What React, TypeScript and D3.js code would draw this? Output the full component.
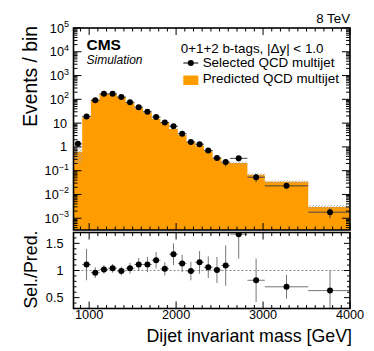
import React from "react";
import * as d3 from "d3";

// bin edges in GeV (last bin runs past the axis end)
const binEdges = [820, 920, 1020, 1120, 1220, 1320, 1420, 1520, 1620, 1720, 1820, 1920, 2020, 2120, 2220, 2320, 2420, 2520, 2620, 2820, 3020, 3520, 4020];

// selected QCD multijet (points) and predicted (orange histogram)
const selected = [1.34, 19.2, 91, 170, 170, 125, 75, 47, 30, 18, 10.6, 7.4, 3.6, 1.6, 1.3, 0.7, 0.34, 0.23, 0.33, 0.053, 0.023, 0.0018];
const selectedErr = [0.2, 4, 9, 13, 13, 10, 7, 5, 3.7, 2.3, 1.2, 1.1, 0.5, 0.27, 0.25, 0.13, 0.08, 0.08, 0.09, 0.02, 0.006, 0.0008];
const predicted = [0.62, 17.3, 95, 167, 163, 126, 72, 42, 27, 15.1, 10.3, 5.7, 3.2, 1.62, 1.13, 0.66, 0.34, 0.21, 0.21, 0.068, 0.034, 0.003];
const predictedUnc = [0.42, 1.0, 3, 5, 5, 4, 2.5, 1.5, 1.0, 0.6, 0.4, 0.25, 0.15, 0.08, 0.06, 0.035, 0.02, 0.015, 0.03, 0.009, 0.005, 0.0006];

// ratio panel (first bin has no point)
const ratio = [null, 1.11, 0.96, 1.02, 1.04, 0.99, 1.04, 1.11, 1.11, 1.19, 1.03, 1.3, 1.13, 0.99, 1.15, 1.06, 1.01, 1.09, 1.67, 0.82, 0.7, 0.63];
const ratioErr = [null, 0.29, 0.1, 0.08, 0.08, 0.08, 0.1, 0.12, 0.14, 0.15, 0.12, 0.2, 0.16, 0.17, 0.21, 0.2, 0.24, 0.37, 0.45, 0.4, 0.22, 0.37];

const xTicks = [1000, 2000, 3000, 4000];
const yDecades = [-3, -2, -1, 0, 1, 2, 3, 4, 5];
const ratioTicks = [0.5, 1, 1.5];

const W = 374;
const H = 351;
const L = 73.5;
const R = 350;
const T1 = 28;
const B1 = 230;
const T2 = 232.5;
const B2 = 308.5;
const FONT = "'Liberation Sans', Arial, Helvetica, sans-serif";
const ORANGE = "#ff9d00";

const x = d3.scaleLinear().domain([820, 4000]).range([L, R]);
const y = d3.scaleLog().domain([3.2e-4, 1e5]).range([B1, T1]);
const yr = d3.scaleLinear().domain([0.3, 1.7]).range([B2, T2]);

const minorX = d3.range(900, 4000, 100).filter((v) => v % 1000 !== 0);
const minorY: number[] = [];
for (let d = -4; d <= 4; d++) {
  for (let k = 2; k <= 9; k++) {
    const v = k * Math.pow(10, d);
    if (v > 3.2e-4 && v < 1e5) minorY.push(v);
  }
}
const minorR = d3.range(0.4, 1.7, 0.1).filter((v) => Math.abs(v * 2 - Math.round(v * 2)) > 0.01);

function XTicks({ top, bottom, major, minor }: { top: number; bottom: number; major: number; minor: number }) {
  return (
    <g stroke="#000" strokeWidth={1}>
      {xTicks.map((t) => (
        <g key={"M" + t}>
          <line x1={x(t)} x2={x(t)} y1={bottom} y2={bottom - major} />
          <line x1={x(t)} x2={x(t)} y1={top} y2={top + major} />
        </g>
      ))}
      {minorX.map((t) => (
        <g key={"m" + t}>
          <line x1={x(t)} x2={x(t)} y1={bottom} y2={bottom - minor} />
          <line x1={x(t)} x2={x(t)} y1={top} y2={top + minor} />
        </g>
      ))}
    </g>
  );
}

export default function App() {
  const centers = selected.map((_, i) => (binEdges[i] + binEdges[i + 1]) / 2);

  const areaData = predicted.map((v, i) => ({ e: binEdges[i], v }));
  areaData.push({ e: binEdges[binEdges.length - 1], v: predicted[predicted.length - 1] });
  const area = d3
    .area<{ e: number; v: number }>()
    .x((d) => x(d.e))
    .y0(B1)
    .y1((d) => y(d.v))
    .curve(d3.curveStepAfter);

  const yMin = y.domain()[0];

  return (
    <div style={{ position: "absolute", left: 0, top: 0 }}>
      <svg width={W} height={H} style={{ display: "block", background: "#fff" }} fontFamily={FONT}>
        <defs>
          <clipPath id="clipTop">
            <rect x={L} y={T1} width={R - L} height={B1 - T1} />
          </clipPath>
          <clipPath id="clipRatio">
            <rect x={L} y={T2} width={R - L} height={B2 - T2} />
          </clipPath>
          <pattern id="hatch" width={3} height={3} patternUnits="userSpaceOnUse">
            <path d="M-1,1 L1,-1 M0,3 L3,0 M2,4 L4,2" stroke="#9a9a9a" strokeWidth={0.7} />
          </pattern>
        </defs>

        {/* top panel */}
        <g clipPath="url(#clipTop)">
          <path d={area(areaData) || ""} fill={ORANGE} />
          {predicted.map((v, i) => (
            <rect
              key={"u" + i}
              x={x(binEdges[i])}
              width={x(binEdges[i + 1]) - x(binEdges[i])}
              y={y(v + predictedUnc[i])}
              height={y(Math.max(v - predictedUnc[i], yMin)) - y(v + predictedUnc[i])}
              fill="url(#hatch)"
            />
          ))}
          {selected.map((v, i) => (
            <g key={"p" + i} stroke="#444" strokeWidth={1}>
              <line x1={x(binEdges[i])} x2={x(binEdges[i + 1])} y1={y(v)} y2={y(v)} />
              <line
                x1={x(centers[i])}
                x2={x(centers[i])}
                y1={y(v + selectedErr[i])}
                y2={y(Math.max(v - selectedErr[i], yMin))}
              />
            </g>
          ))}
          {selected.map((v, i) => (
            <circle key={"c" + i} cx={x(centers[i])} cy={y(v)} r={3} fill="#000" />
          ))}
        </g>
        <XTicks top={T1} bottom={B1} major={7} minor={3.5} />
        <g stroke="#000" strokeWidth={1}>
          {yDecades.map((d) => (
            <g key={"yd" + d}>
              <line x1={L} x2={L + 8} y1={y(Math.pow(10, d))} y2={y(Math.pow(10, d))} />
              <line x1={R} x2={R - 8} y1={y(Math.pow(10, d))} y2={y(Math.pow(10, d))} />
            </g>
          ))}
          {minorY.map((v) => (
            <g key={"ym" + v}>
              <line x1={L} x2={L + 4} y1={y(v)} y2={y(v)} />
              <line x1={R} x2={R - 4} y1={y(v)} y2={y(v)} />
            </g>
          ))}
        </g>
        <rect x={L} y={T1} width={R - L} height={B1 - T1} fill="none" stroke="#000" strokeWidth={1.6} />
        <g fontSize={12.7} textAnchor="end">
          {yDecades.map((d) => (
            <text key={"yl" + d} x={d <= 1 && d >= 0 ? 67 : 69} y={y(Math.pow(10, d)) + 4.5}>
              {d === 0 ? "1" : d === 1 ? "10" : (
                <>
                  10
                  <tspan fontSize={9} dy={-5.5}>
                    {d < 0 ? "\u2212" + Math.abs(d) : d}
                  </tspan>
                </>
              )}
            </text>
          ))}
        </g>

        {/* ratio panel */}
        <line x1={L} x2={R} y1={yr(1)} y2={yr(1)} stroke="#888" strokeWidth={1} strokeDasharray="2,2" />
        <g clipPath="url(#clipRatio)">
          {ratio.map((r, i) =>
            r === null ? null : (
              <g key={"r" + i} stroke="#777" strokeWidth={1}>
                <line x1={x(binEdges[i])} x2={x(binEdges[i + 1])} y1={yr(r)} y2={yr(r)} />
                <line x1={x(centers[i])} x2={x(centers[i])} y1={yr(r + (ratioErr[i] as number))} y2={yr(r - (ratioErr[i] as number))} />
              </g>
            )
          )}
          {ratio.map((r, i) => (r === null ? null : <circle key={"rc" + i} cx={x(centers[i])} cy={yr(r)} r={3} fill="#000" />))}
        </g>
        <XTicks top={T2} bottom={B2} major={7} minor={3.5} />
        <g stroke="#000" strokeWidth={1}>
          {ratioTicks.map((t) => (
            <g key={"rt" + t}>
              <line x1={L} x2={L + 6} y1={yr(t)} y2={yr(t)} />
              <line x1={R} x2={R - 6} y1={yr(t)} y2={yr(t)} />
            </g>
          ))}
          {minorR.map((t) => (
            <g key={"rm" + t}>
              <line x1={L} x2={L + 3} y1={yr(t)} y2={yr(t)} />
              <line x1={R} x2={R - 3} y1={yr(t)} y2={yr(t)} />
            </g>
          ))}
        </g>
        <rect x={L} y={T2} width={R - L} height={B2 - T2} fill="none" stroke="#000" strokeWidth={1.6} />
        <g fontSize={12.7} textAnchor="end">
          {ratioTicks.map((t) => (
            <text key={"rl" + t} x={63.5} y={yr(t) + 4.5}>
              {String(t)}
            </text>
          ))}
        </g>
        <g fontSize={12.7} textAnchor="middle">
          {xTicks.map((t) => (
            <text key={"xl" + t} x={x(t)} y={319}>
              {t}
            </text>
          ))}
        </g>

        {/* titles */}
        <text x={352} y={342} fontSize={17.8} textAnchor="end">
          Dijet invariant mass [GeV]
        </text>
        <text transform={`translate(37,${T1 - 2}) rotate(-90)`} fontSize={19.3} textAnchor="end">
          Events / bin
        </text>
        <text transform={`translate(37,${T2 - 2}) rotate(-90)`} fontSize={17.8} textAnchor="end">
          Sel./Pred.
        </text>
        <text x={350} y={23} fontSize={13.3} textAnchor="end">
          8 TeV
        </text>
        <text x={86.5} y={50} fontSize={15.5} fontWeight="bold">
          CMS
        </text>
        <text x={86.5} y={64} fontSize={12} fontStyle="italic">
          Simulation
        </text>

        {/* legend */}
        <g fontSize={13.4}>
          <text x={180.7} y={53.3}>0+1+2 b-tags, |Δy| &lt; 1.0</text>
          <line x1={183.3} x2={198.3} y1={63} y2={63} stroke="#000" strokeWidth={1} />
          <circle cx={190.8} cy={63} r={3} fill="#000" />
          <text x={202.7} y={66.7}>Selected QCD multijet</text>
          <rect x={183.3} y={75.5} width={15} height={9.5} fill={ORANGE} />
          <text x={202.7} y={82.5}>Predicted QCD multijet</text>
        </g>
      </svg>
    </div>
  );
}
